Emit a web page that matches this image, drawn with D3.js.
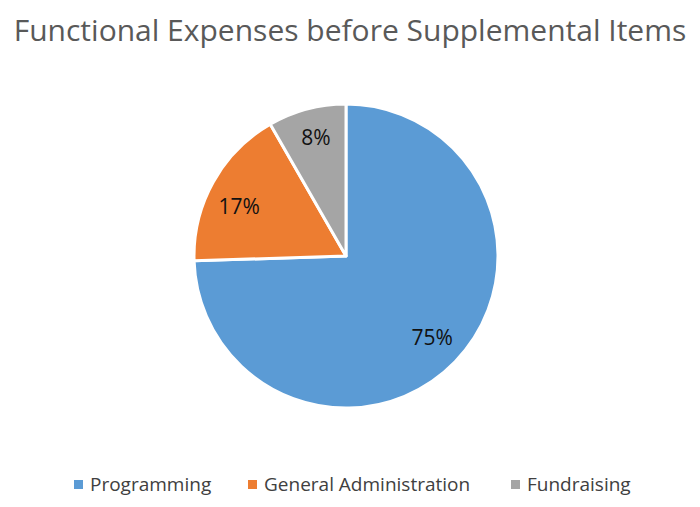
<!DOCTYPE html>
<html><head><meta charset="utf-8">
<script src="https://cdn.jsdelivr.net/npm/d3@7"></script>
<style>body{margin:0;background:#fff;} svg{display:block;}</style>
</head><body>
<svg id="c" width="700" height="507"></svg>
<script>
const categories = ["Programming", "General Administration", "Fundraising"];
const values = [74.5, 17.2, 8.3];
const colors = ["#5B9BD5", "#ED7D31", "#A5A5A5"];
const title = "Functional Expenses before Supplemental Items";

const svg = d3.select("#c");
const font = "'Open Sans', 'Noto Sans', sans-serif";
svg.append("rect").attr("width",700).attr("height",507).attr("fill","#fff");

svg.append("text").attr("x",350).attr("y",41).attr("text-anchor","middle")
  .attr("font-family",font).attr("font-size",30).attr("fill","#595959").text(title);

const cx = 346, cy = 256, r = 152;
const data = categories.map((c,i)=>({cat:c, v:values[i], color:colors[i]}));
const pie = d3.pie().value(d=>d.v).sort(null);
const arc = d3.arc().innerRadius(0).outerRadius(r);
const arcs = pie(data);
const g = svg.append("g").attr("transform",`translate(${cx},${cy})`);
g.selectAll("path").data(arcs).join("path").attr("d",arc)
  .attr("fill",d=>d.data.color).attr("stroke","#fff").attr("stroke-width",3).attr("stroke-linejoin","round");

const total = d3.sum(values);
const labelArc = d3.arc().innerRadius(r*0.79).outerRadius(r*0.79);
const nudge = [[0,-2],[-2,9],[1,-3]];
g.selectAll("text.lbl").data(arcs).join("text").attr("class","lbl")
  .attr("transform",(d,i)=>{const c=labelArc.centroid(d);return `translate(${c[0]+nudge[i][0]},${c[1]+nudge[i][1]})`;})
  .attr("text-anchor","middle").attr("dy","0.36em")
  .attr("font-family",font).attr("font-size",21).attr("fill","#111")
  .text(d=>Math.round(d.data.v/total*100)+"%");

const legendX = [74, 248, 511];
const lg = svg.append("g");
data.forEach((d,i)=>{
  lg.append("rect").attr("x",legendX[i]).attr("y",480).attr("width",9).attr("height",9).attr("fill",d.color);
  lg.append("text").attr("x",legendX[i]+16).attr("y",491).attr("font-family",font)
    .attr("font-size",19).attr("fill","#404040").text(d.cat);
});
</script>
</body></html>
